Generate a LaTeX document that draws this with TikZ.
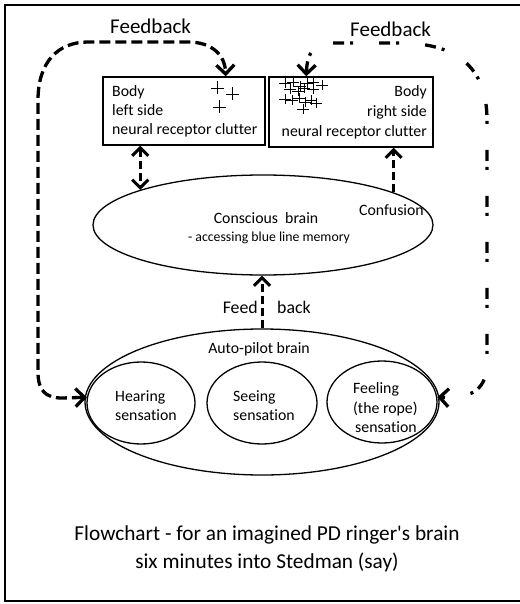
\documentclass[tikz,border=0pt]{standalone}
\usepackage{fontspec}
\setmainfont[Ligatures={NoCommon}]{Carlito}
\newfontfamily\plaincarlito[Ligatures={NoCommon}]{Carlito}
\usetikzlibrary{arrows.meta,shapes.geometric}
\begin{document}
\begin{tikzpicture}[x=1pt,y=-1pt,
  boxnode/.style={draw, line width=1.4pt, inner sep=0pt},
  ellnode/.style={draw, ellipse, line width=1.3pt, inner sep=0pt},
  txt/.style={inner sep=0pt, font=\fontsize{15.8}{19}\selectfont},
  smalltxt/.style={inner sep=0pt, font=\fontsize{13.8}{16}\selectfont},
  bigtxt/.style={inner sep=0pt, font=\plaincarlito\fontsize{21.3}{24}\selectfont},
  fbtxt/.style={inner sep=0pt, font=\fontsize{21}{24}\selectfont},
  conn/.style={line width=3pt, dash pattern=on 8pt off 4pt},
  cross/.style={line width=0.8pt},
  frame/.style={line width=1.8pt}
]
\useasboundingbox (0,0) rectangle (519,604);
\draw[frame] (530,5) -- (5,5) -- (5,601) -- (530,601);

% boxes
\node[boxnode, minimum width=162pt, minimum height=68pt] (lbox) at (184,111) {};
\node[boxnode, minimum width=164pt, minimum height=70pt] (rbox) at (351,112) {};

\node[txt, anchor=base west] (l1) at (112,97) {Body};
\node[txt, anchor=base west] (l2) at (112,116) {left side};
\node[txt, anchor=base west] (l3) at (112,135) {neural receptor clutter};
\node[txt, anchor=base east] (r1) at (427,97) {Body};
\node[txt, anchor=base east] (r2) at (427,117) {right side};
\node[txt, anchor=base east] (r3) at (427,137) {neural receptor clutter};

% crosses
\foreach \cx/\cy in {217/88, 232/94, 219/107}
  \draw[cross] (\cx-6.5,\cy) -- (\cx+6.5,\cy) (\cx,\cy-6.5) -- (\cx,\cy+6.5);
\foreach \cx/\cy in {285/83, 293/82, 300/86, 307/83, 313/82, 322/85, 290/89, 298/91, 304/88, 313/89, 285/99, 292/100, 299/98, 305/102, 311/100, 303/109, 316/103}
  \draw[cross] (\cx-6,\cy) -- (\cx+6,\cy) (\cx,\cy-5) -- (\cx,\cy+5);

% conscious brain
\node[ellnode, minimum width=340pt, minimum height=100pt] (cb) at (263,225) {};
\node[txt, anchor=base] (cb1) at (266,223) {Conscious\ \ brain};
\node[smalltxt, anchor=base] (cb2) at (269,241) {- accessing blue line memory};
\node[txt, anchor=base west] (conf) at (359,215) {Confusion};

% auto-pilot brain
\node[ellnode, minimum width=354pt, minimum height=146pt] (ap) at (262,402) {};
\node[txt, anchor=base] (apt) at (259,353) {Auto-pilot brain};
\node[ellnode, minimum width=108pt, minimum height=82pt] (hear) at (141,403) {};
\node[ellnode, minimum width=110pt, minimum height=82pt] (see) at (262,403) {};
\node[ellnode, minimum width=110pt, minimum height=82pt] (feel) at (382,402) {};
\node[txt, anchor=base west] (h1) at (115,401) {Hearing};
\node[txt, anchor=base west] (h2) at (115,420) {sensation};
\node[txt, anchor=base west] (s1) at (233,401) {Seeing};
\node[txt, anchor=base west] (s2) at (233,420) {sensation};
\node[txt, anchor=base west] (f1) at (353,393) {Feeling};
\node[txt, anchor=base west] (f2) at (353,413) {(the rope)};
\node[txt, anchor=base west] (f3) at (355,432) {sensation};

% labels
\node[fbtxt, anchor=base west] (fbl) at (110,34) {Feedback};
\node[fbtxt, anchor=base west] (fbr) at (350,37) {Feedback};
\node[fbtxt, font=\fontsize{17.8}{20}\selectfont, anchor=base east] (fd1) at (258,313) {Feed};
\node[fbtxt, font=\fontsize{17.8}{20}\selectfont, anchor=base west] (fd2) at (277,313) {back};

% title
\node[bigtxt, anchor=base] (t1) at (267,540) {Flowchart - for an imagined PD ringer's brain};
\node[bigtxt, anchor=base] (t2) at (267,568) {six minutes into Stedman (say)};

% connectors
\draw[conn, {Straight Barb[length=8pt,width=16pt]}-{Straight Barb[length=8pt,width=16pt]}] (lbox.south -| cb.164) -- (cb.164);
\draw[conn, -{Straight Barb[length=8pt,width=16pt]}] (cb.14) -- (rbox.south -| cb.14);
\draw[conn, -{Straight Barb[length=8pt,width=16pt]}] (ap.north) -- (ap.north |- cb.south);

\draw[line width=3.3pt, dash pattern=on 11pt off 5pt, {Straight Barb[length=9pt,width=18pt]}-{Straight Barb[length=9pt,width=18pt]}]
  (hear.174) -- (62,398) .. controls (45,398) and (38,390) .. (38,372) -- (38,100)
  .. controls (38,62) and (58,42) .. (88,42) -- (188,42)
  .. controls (212,42) and (225,55) .. ([xshift=-40pt]lbox.north east);

\draw[line width=3.3pt, dash pattern=on 11pt off 6pt on 3pt off 26pt, {Straight Barb[length=9pt,width=18pt]}-{Straight Barb[length=9pt,width=18pt]}]
  ([xshift=38pt]rbox.north west) .. controls (307,52) and (315,43) .. (330,43) -- (400,43)
  .. controls (462,43) and (487,72) .. (487,120) -- (487,362)
  .. controls (487,388) and (474,399) .. (feel.5);
\end{tikzpicture}
\end{document}
